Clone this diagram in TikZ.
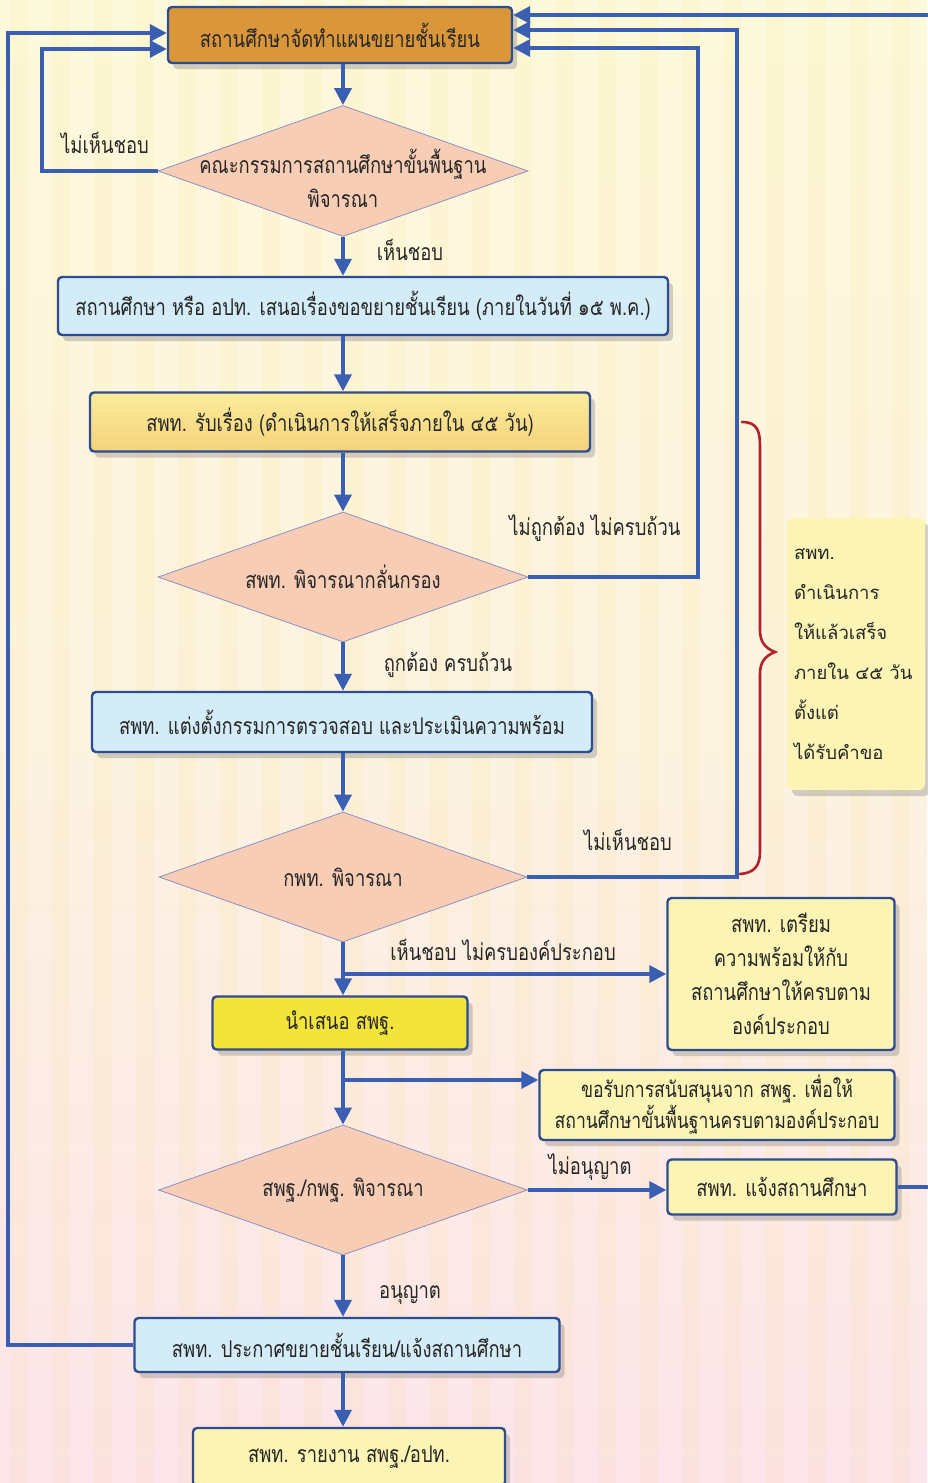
\documentclass[tikz,border=0pt]{standalone}
\usepackage{fontspec}
\setmainfont{Loma}[Script=Thai]
\newfontfamily\thaic{Loma}[Script=Thai,FakeStretch=0.8]
\usetikzlibrary{arrows.meta,shapes.geometric,shadows,calc}
\definecolor{bgtop}{HTML}{FDF9DC}
\definecolor{bgbot}{HTML}{FBE4EA}
\definecolor{conn}{HTML}{3A5FB2}
\definecolor{navy}{HTML}{2E4C8E}
\definecolor{orangebox}{HTML}{D9963B}
\definecolor{lblue}{HTML}{D4ECF7}
\definecolor{lyel}{HTML}{FBF4B4}
\definecolor{yel}{HTML}{F3E43C}
\definecolor{gold}{HTML}{F5D27C}
\definecolor{peach}{HTML}{F7CDB5}
\definecolor{dborder}{HTML}{8C90C2}
\definecolor{bracered}{HTML}{B3202A}
\tikzset{
  box/.style={draw=navy, line width=2.4pt, rounded corners=4pt, inner sep=4pt,
    font=\thaic\fontsize{23}{28}\selectfont, text=black!85,
    drop shadow={opacity=0.35, shadow xshift=5pt, shadow yshift=-6pt}},
  diam/.style={diamond, draw=dborder, line width=0.8pt, fill=peach, inner sep=0pt},
  dlab/.style={font=\thaic\fontsize{23}{28}\selectfont, text=black!85, align=center, inner sep=0pt},
  lab/.style={font=\thaic\fontsize{23}{28}\selectfont, text=black!85, inner sep=0pt},
  conn/.style={draw=conn, line width=3.5pt},
  arr/.style={conn, -{Triangle[length=17pt,width=17pt]}},
  brace/.style={draw=bracered, line width=2.6pt, line cap=round}
}
\begin{document}
\begin{tikzpicture}[x=1pt,y=-1pt]
\useasboundingbox (0,0) rectangle (927,1483);
\fill[top color=bgtop, bottom color=bgbot, middle color=bgtop!70!bgbot] (0,0) rectangle (927,1483);
\foreach \i in {0,...,22} {
  \fill[yellow!60!orange, opacity=0.05] (\i*42+10,0) rectangle (\i*42+28,1483);
}
% nodes
\node[box, fill=orangebox, minimum width=344pt, minimum height=56pt] (top) at (340,35) {สถานศึกษาจัดทำแผนขยายชั้นเรียน};
\node[diam, minimum width=370pt, minimum height=131pt,
  label={[dlab, yshift=-7pt]center:คณะกรรมการสถานศึกษาขั้นพื้นฐาน\\[6pt]พิจารณา}] (d1) at (343,171) {};
\node[box, fill=lblue, minimum width=610pt, minimum height=58pt] (b2) at (363,306) {สถานศึกษา หรือ อปท. เสนอเรื่องขอขยายชั้นเรียน (ภายในวันที่ ๑๕ พ.ค.)};
\node[box, top color=gold!70!yellow!60, bottom color=gold, minimum width=500pt, minimum height=59pt] (b3) at (340,422) {สพท. รับเรื่อง (ดำเนินการให้เสร็จภายใน ๔๕ วัน)};
\node[diam, minimum width=370pt, minimum height=130pt,
  label={[dlab]center:สพท. พิจารณากลั่นกรอง}] (d3) at (343,577) {};
\node[box, fill=lblue, minimum width=500pt, minimum height=60pt] (b4) at (342,722) {สพท. แต่งตั้งกรรมการตรวจสอบ และประเมินความพร้อม};
\node[diam, minimum width=368pt, minimum height=130pt,
  label={[dlab]center:กพท. พิจารณา}] (d5) at (343,877) {};
\node[box, fill=lyel, minimum width=227pt, minimum height=152pt, align=center] (prep) at (781,974) {สพท. เตรียม\\[6pt]ความพร้อมให้กับ\\[6pt]สถานศึกษาให้ครบตาม\\[6pt]องค์ประกอบ};
\node[box, fill=yel, minimum width=255pt, minimum height=53pt] (nam) at (340,1023) {นำเสนอ สพฐ.};
\node[box, fill=lyel, minimum width=355pt, minimum height=70pt, align=center,
  font=\thaic\fontsize{22}{31}\selectfont] (sup) at (717,1105) {ขอรับการสนับสนุนจาก สพฐ. เพื่อให้\\สถานศึกษาขั้นพื้นฐานครบตามองค์ประกอบ};
\node[diam, minimum width=369pt, minimum height=130pt,
  label={[dlab]center:สพฐ./กพฐ. พิจารณา}] (d7) at (343,1190) {};
\node[box, fill=lyel, minimum width=229pt, minimum height=55pt] (notify) at (782,1187) {สพท. แจ้งสถานศึกษา};
\node[box, fill=lblue, minimum width=425pt, minimum height=54pt] (b8) at (347,1345) {สพท. ประกาศขยายชั้นเรียน/แจ้งสถานศึกษา};
\node[box, fill=lyel, minimum width=312pt, minimum height=58pt] (b9) at (349,1457) {สพท. รายงาน สพฐ./อปท.};
\node[box, draw=none, fill=lyel, minimum width=138pt, minimum height=272pt, align=left, text width=124pt,
  font=\fontsize{18.5}{40}\selectfont, rounded corners=6pt] (note) at (856,654)
  {สพท.\\ดำเนินการ\\ให้แล้วเสร็จ\\ภายใน ๔๕ วัน\\ตั้งแต่\\ได้รับคำขอ};
% main vertical flow
\draw[arr] (top.south -| d1.north) -- (d1.north);
\draw[arr] (d1.south) -- (d1.south |- b2.north);
\draw[arr] (d1.south |- b2.south) -- (d1.south |- b3.north);
\draw[arr] (d1.south |- b3.south) -- (d3.north);
\draw[arr] (d3.south) -- (d3.south |- b4.north);
\draw[arr] (d3.south |- b4.south) -- (d5.north);
\draw[arr] (d5.south) -- (d5.south |- nam.north);
\draw[arr] (d5.south |- prep.west) -- (prep.west);
\coordinate (supin) at ($(sup.west)+(0,-25)$);
\draw[arr] (d7.north |- nam.south) -- (d7.north);
\draw[arr] (d7.north |- supin) -- (supin);
\draw[arr] (d7.east) -- (d7.east -| notify.west);
\draw[arr] (d7.south) -- (d7.south |- b8.north);
\draw[arr] (d7.south |- b8.south) -- (d7.south |- b9.north);
% feedback loops
\coordinate (tl1) at ($(top.west)+(0,-2)$);
\coordinate (tl2) at ($(top.west)+(0,14)$);
\draw[arr] (b8.west) -- (8,1345) -- (8,33) -- (tl1);
\draw[arr] (d1.west) -- (42,171) -- (42,49) -- (tl2);
\coordinate (tr1) at ($(top.east)+(0,-20)$);
\coordinate (tr2) at ($(top.east)+(0,-5)$);
\coordinate (tr3) at ($(top.east)+(0,13)$);
\draw[arr] (d3.east) -- (698,577) -- (698,48) -- (tr3);
\draw[arr] (d5.east) -- (737,877) -- (737,30) -- (tr2);
\draw[arr] (notify.east) -- (945,1187) -- (945,15) -- (tr1);
% brace
\draw[brace] (742,422) .. controls (758,422) and (760,432) .. (760,447) -- (760,630) .. controls (760,642) and (765,648) .. (775,652) .. controls (765,656) and (760,662) .. (760,674) -- (760,852) .. controls (760,866) and (754,873) .. (740,874);
% labels
\node[lab] (l1) at (105,143) {ไม่เห็นชอบ};
\node[lab] (l2) at (410,250) {เห็นชอบ};
\node[lab] (l3) at (595,528) {ไม่ถูกต้อง ไม่ครบถ้วน};
\node[lab] (l4) at (448,665) {ถูกต้อง ครบถ้วน};
\node[lab] (l5) at (628,840) {ไม่เห็นชอบ};
\node[lab] (l6) at (503,950) {เห็นชอบ ไม่ครบองค์ประกอบ};
\node[lab] (l7) at (590,1167) {ไม่อนุญาต};
\node[lab] (l8) at (410,1295) {อนุญาต};
\end{tikzpicture}
\end{document}
